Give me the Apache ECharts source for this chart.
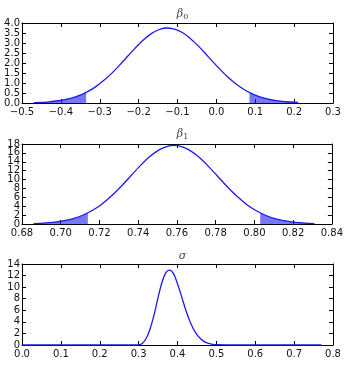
<!DOCTYPE html>
<html><head><meta charset="utf-8">
<script src="https://cdn.jsdelivr.net/npm/echarts@6/dist/echarts.min.js"></script>
<style>html,body{margin:0;padding:0;background:#fff}#c{width:346px;height:375px}</style>
</head><body><div id="c"></div>
<script>
// beta0 posterior density
var b0X = [-0.47,-0.45,-0.43,-0.41,-0.39,-0.37,-0.35,-0.33,-0.31,-0.29,-0.27,-0.25,-0.23,-0.21,-0.19,-0.17,-0.15,-0.13,-0.11,-0.09,-0.07,-0.05,-0.03,-0.01,0.01,0.03,0.05,0.07,0.09,0.11,0.13,0.15,0.17,0.19,0.21];
var b0Y = [0.02,0.03,0.06,0.10,0.17,0.26,0.39,0.58,0.82,1.12,1.47,1.87,2.30,2.72,3.11,3.43,3.65,3.75,3.71,3.55,3.28,2.92,2.51,2.08,1.67,1.29,0.96,0.69,0.48,0.32,0.21,0.13,0.08,0.05,0.03];
var b0Cuts = [-0.335, 0.085];
var b0CutY = [0.53, 0.53];
// beta1 posterior density
var b1X = [0.686,0.691,0.696,0.701,0.706,0.711,0.716,0.721,0.726,0.731,0.736,0.741,0.746,0.751,0.756,0.7585,0.761,0.766,0.771,0.776,0.781,0.786,0.791,0.796,0.801,0.806,0.811,0.816,0.821,0.826,0.831];
var b1Y = [0.10,0.20,0.37,0.68,1.16,1.91,2.97,4.41,6.24,8.39,10.74,13.08,15.17,16.74,17.59,17.70,17.59,16.74,15.17,13.08,10.74,8.39,6.24,4.41,2.97,1.91,1.16,0.68,0.37,0.20,0.10];
var b1Cuts = [0.714, 0.803];
var b1CutY = [2.55, 2.55];
// sigma posterior density
var sX = [0.00,0.05,0.10,0.15,0.20,0.25,0.29,0.30,0.31,0.32,0.33,0.34,0.35,0.36,0.37,0.38,0.39,0.40,0.41,0.42,0.43,0.44,0.45,0.46,0.47,0.48,0.49,0.50,0.55,0.60,0.65,0.70,0.77];
var sY = [0,0,0,0,0,0,0,0.02,0.3,1.2,2.9,5.3,8.2,10.8,12.5,12.95,12.3,10.6,8.5,6.3,4.4,2.9,1.8,1.05,0.55,0.28,0.12,0.05,0,0,0,0,0];
// axis ticks
var b0XTicks = [-0.5, 0.3, 0.1]; var b0YTicks = [0, 4, 0.5];
var b1XTicks = [0.68, 0.84, 0.02]; var b1YTicks = [0, 18, 2];
var sXTicks = [0, 0.8, 0.1]; var sYTicks = [0, 14, 2];
var titles = [['β','0'],['β','1'],['σ','']];

var FONT = 'DejaVu Sans';
function pairs(xs, ys){ return xs.map(function(x,i){return [x, ys[i]];}); }
function lowTail(xs, ys, cut, cy){ var d = []; xs.forEach(function(x,i){ if (x < cut) d.push([x, ys[i]]); }); d.push([cut, cy]); return d; }
function highTail(xs, ys, cut, cy){ var d = [[cut, cy]]; xs.forEach(function(x,i){ if (x > cut) d.push([x, ys[i]]); }); return d; }
function fmt(dec){ return function(v){ return v.toFixed(dec).replace('-', '\u2212'); }; }
function fmtEnds(dec, lo, hi){ return function(v){ return (Math.abs(v - lo) < 1e-9 || Math.abs(v - hi) < 1e-9) ? v.toFixed(dec).replace('-', '\u2212') : ''; }; }

var grids = [
  {left:22, right:13, top:23, height:80},
  {left:22, right:13, top:144, height:80},
  {left:22, right:13, top:264, height:81}
];
var xt = [b0XTicks, b1XTicks, sXTicks], yt = [b0YTicks, b1YTicks, sYTicks];
var xdec = [1, 2, 1], ydec = [1, 0, 0];
var xAxes = [], yAxes = [];
for (var g = 0; g < 3; g++) {
  var lineS = {show:true, onZero:false, lineStyle:{color:'#000', width:1}};
  var tick = {show:true, inside:true, length:4, lineStyle:{color:'#000', width:1}};
  var lab = {fontFamily:FONT, fontSize:10, color:'#111', interval:0, hideOverlap:false};
  xAxes.push({type:'value', gridIndex:g, position:'bottom', min:xt[g][0], max:xt[g][1], interval:xt[g][2],
    axisLine:lineS, axisTick:tick, splitLine:{show:false},
    axisLabel:Object.assign({formatter:fmt(xdec[g]), margin:4, showMinLabel:true, showMaxLabel:true}, lab)});
  xAxes.push({type:'value', gridIndex:g, position:'top', min:xt[g][0], max:xt[g][1], interval:xt[g][2],
    axisLine:lineS, axisTick:tick, splitLine:{show:false}, axisLabel:{show:false}});
  // inner y labels (without ends)
  yAxes.push({type:'value', gridIndex:g, position:'left', min:yt[g][0], max:yt[g][1], interval:yt[g][2],
    axisLine:lineS, axisTick:tick, splitLine:{show:false},
    axisLabel:Object.assign({formatter:fmt(ydec[g]), margin:2, showMinLabel:false, showMaxLabel:false}, lab)});
  yAxes.push({type:'value', gridIndex:g, position:'right', min:yt[g][0], max:yt[g][1], interval:yt[g][2],
    axisLine:lineS, axisTick:tick, splitLine:{show:false}, axisLabel:{show:false}});
  // end y labels (min and max)
  yAxes.push({type:'value', gridIndex:g, position:'left', min:yt[g][0], max:yt[g][1], interval:yt[g][2],
    axisLine:{show:false, onZero:false}, axisTick:{show:false}, splitLine:{show:false},
    axisLabel:Object.assign({formatter:fmtEnds(ydec[g], yt[g][0], yt[g][1]), margin:2, showMinLabel:true, showMaxLabel:true}, lab)});
}

var LINE = '#1a1aee', FILL = 'rgba(30,30,245,0.6)';
function curve(g, data){ return {type:'line', xAxisIndex:2*g, yAxisIndex:3*g, data:data, smooth:0.3, symbol:'none', lineStyle:{color:LINE, width:1.3}, z:3}; }
function tail(g, data){ return {type:'line', xAxisIndex:2*g, yAxisIndex:3*g, data:data, smooth:0.3, symbol:'none', lineStyle:{width:0}, areaStyle:{color:FILL, opacity:1}, z:2}; }

var series = [
  tail(0, lowTail(b0X, b0Y, b0Cuts[0], b0CutY[0])),
  tail(0, highTail(b0X, b0Y, b0Cuts[1], b0CutY[1])),
  curve(0, pairs(b0X, b0Y)),
  tail(1, lowTail(b1X, b1Y, b1Cuts[0], b1CutY[0])),
  tail(1, highTail(b1X, b1Y, b1Cuts[1], b1CutY[1])),
  curve(1, pairs(b1X, b1Y)),
  curve(2, pairs(sX, sY))
];

var titleTops = [2, 122, 244];
var title = titles.map(function(t, i){
  return {text:'{a|' + t[0] + '}{b|' + t[1] + '}', left:177.5, top:titleTops[i], textAlign:'center',
    textStyle:{fontWeight:'normal', rich:{
      a:{fontFamily:'DejaVu Serif', fontStyle:'italic', fontWeight:'normal', fontSize:11, color:'#444'},
      b:{fontFamily:'DejaVu Serif', fontWeight:'normal', fontSize:8, color:'#444', padding:[6,0,0,0]}}}};
});

var chart = echarts.init(document.getElementById('c'), null, {renderer:'canvas'});
chart.setOption({animation:false, backgroundColor:'#fff', title:title, grid:grids, xAxis:xAxes, yAxis:yAxes, series:series});
</script></body></html>
